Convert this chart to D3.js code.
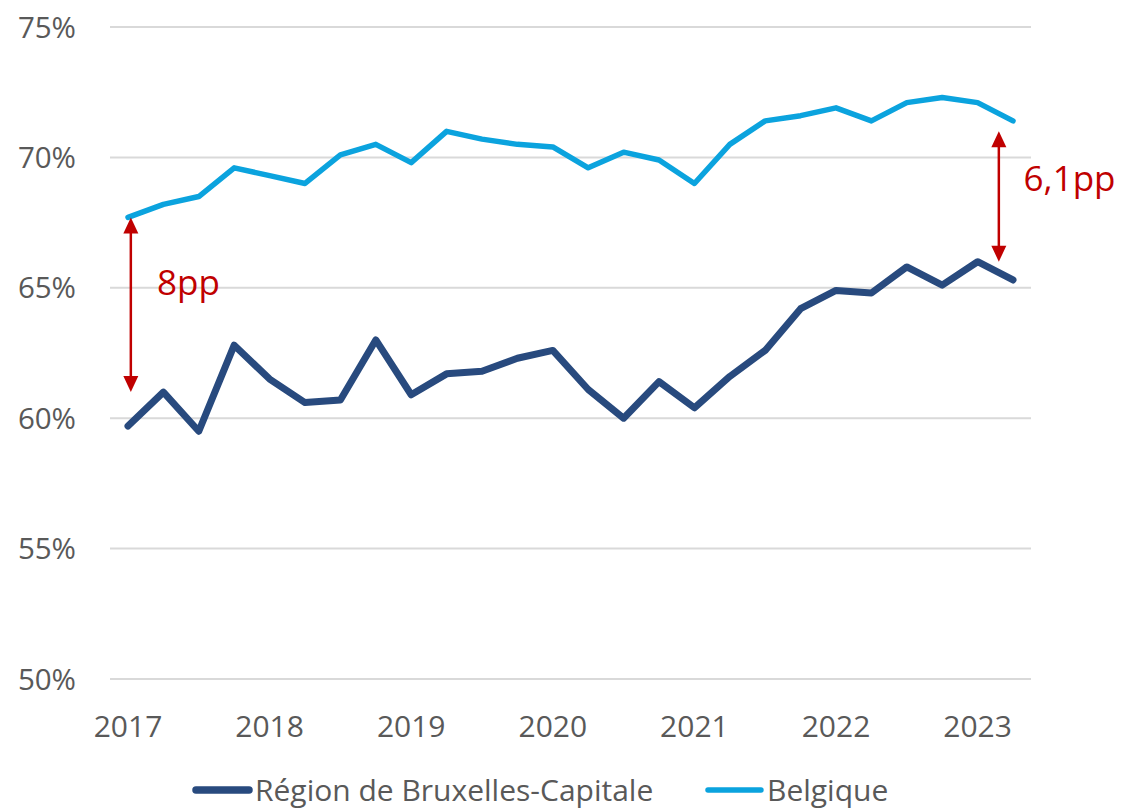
<!DOCTYPE html>
<html><head><meta charset="utf-8">
<script src="https://cdn.jsdelivr.net/npm/d3@7"></script>
<style>
html,body{margin:0;padding:0;background:#fff;}
svg{display:block;font-family:"Open Sans","Noto Sans",sans-serif;}
</style></head>
<body>
<svg id="chart" width="1121" height="809"></svg>
<script>
const quarters = ["2017Q1","2017Q2","2017Q3","2017Q4","2018Q1","2018Q2","2018Q3","2018Q4","2019Q1","2019Q2","2019Q3","2019Q4","2020Q1","2020Q2","2020Q3","2020Q4","2021Q1","2021Q2","2021Q3","2021Q4","2022Q1","2022Q2","2022Q3","2022Q4","2023Q1","2023Q2"];
const bruxelles = [59.7,61.0,59.5,62.8,61.5,60.6,60.7,63.0,60.9,61.7,61.8,62.3,62.6,61.1,60.0,61.4,60.4,61.6,62.6,64.2,64.9,64.8,65.8,65.1,66.0,65.3];
const belgique = [67.7,68.2,68.5,69.6,69.3,69.0,70.1,70.5,69.8,71.0,70.7,70.5,70.4,69.6,70.2,69.9,69.0,70.5,71.4,71.6,71.9,71.4,72.1,72.3,72.1,71.4];
const yTicks = [50,55,60,65,70,75];
const yearLabels = ["2017","2018","2019","2020","2021","2022","2023"];
const seriesNames = ["Région de Bruxelles-Capitale","Belgique"];
const annotations = [
  {pos:0.08, from:67.7, to:61.0, label:"8pp", textPos:0.82, textVal:64.72},
  {pos:24.6, from:71.0, to:66.0, label:"6,1pp", textPos:25.3, textVal:68.71}
];

const svg = d3.select("#chart");
const x = d3.scaleLinear().domain([0, quarters.length-1]).range([128, 1013]);
const y = d3.scaleLinear().domain([50,75]).range([679, 27]);
const textColor = "#595959";
const gridColor = "#D9D9D9";
const colors = ["#284A7E","#0BA3DE"];
const red = "#C00000";

// gridlines
svg.append("g").selectAll("line").data(yTicks).join("line")
  .attr("x1",110).attr("x2",1031)
  .attr("y1",d=>y(d)).attr("y2",d=>y(d))
  .attr("stroke",gridColor).attr("stroke-width",2);

// y labels
svg.append("g").selectAll("text").data(yTicks).join("text")
  .attr("x",76).attr("y",d=>y(d)+10.5)
  .attr("text-anchor","end").attr("font-size",29.5).attr("fill",textColor)
  .text(d=>d+"%");

// x labels
svg.append("g").selectAll("text").data(yearLabels).join("text")
  .attr("x",(d,i)=>x(i*4)).attr("y",737)
  .attr("text-anchor","middle").attr("font-size",30).attr("fill",textColor)
  .text(d=>d);

// lines
const line = d3.line().x((d,i)=>x(i)).y(d=>y(d));
svg.append("path").datum(belgique).attr("d",line)
  .attr("fill","none").attr("stroke",colors[1]).attr("stroke-width",5.5)
  .attr("stroke-linejoin","round").attr("stroke-linecap","round");
svg.append("path").datum(bruxelles).attr("d",line)
  .attr("fill","none").attr("stroke",colors[0]).attr("stroke-width",7)
  .attr("stroke-linejoin","round").attr("stroke-linecap","round");

// annotations
annotations.forEach(a=>{
  const ax = x(a.pos);
  const y1 = y(a.from), y2 = y(a.to);
  const hh = 16, hw = 7.5;
  svg.append("line").attr("x1",ax).attr("x2",ax)
    .attr("y1",y1+hh-2).attr("y2",y2-hh+2)
    .attr("stroke",red).attr("stroke-width",2.5);
  svg.append("path").attr("d",`M${ax},${y1} L${ax-hw},${y1+hh} L${ax+hw},${y1+hh} Z`).attr("fill",red);
  svg.append("path").attr("d",`M${ax},${y2} L${ax-hw},${y2-hh} L${ax+hw},${y2-hh} Z`).attr("fill",red);
  svg.append("text").attr("x",x(a.textPos)).attr("y",y(a.textVal))
    .attr("font-size",35).attr("fill",red).text(a.label);
});

// legend
const legendItems = [{x:193, name:seriesNames[0], c:colors[0], w:7.5},{x:705, name:seriesNames[1], c:colors[1], w:5.5}];
const lg = svg.append("g");
legendItems.forEach(l=>{
  lg.append("line").attr("x1",l.x+3).attr("x2",l.x+56).attr("y1",790).attr("y2",790)
    .attr("stroke",l.c).attr("stroke-width",l.w).attr("stroke-linecap","round");
  lg.append("text").attr("x",l.x+62).attr("y",801).attr("font-size",30).attr("fill",textColor).text(l.name);
});
</script>
</body></html>
